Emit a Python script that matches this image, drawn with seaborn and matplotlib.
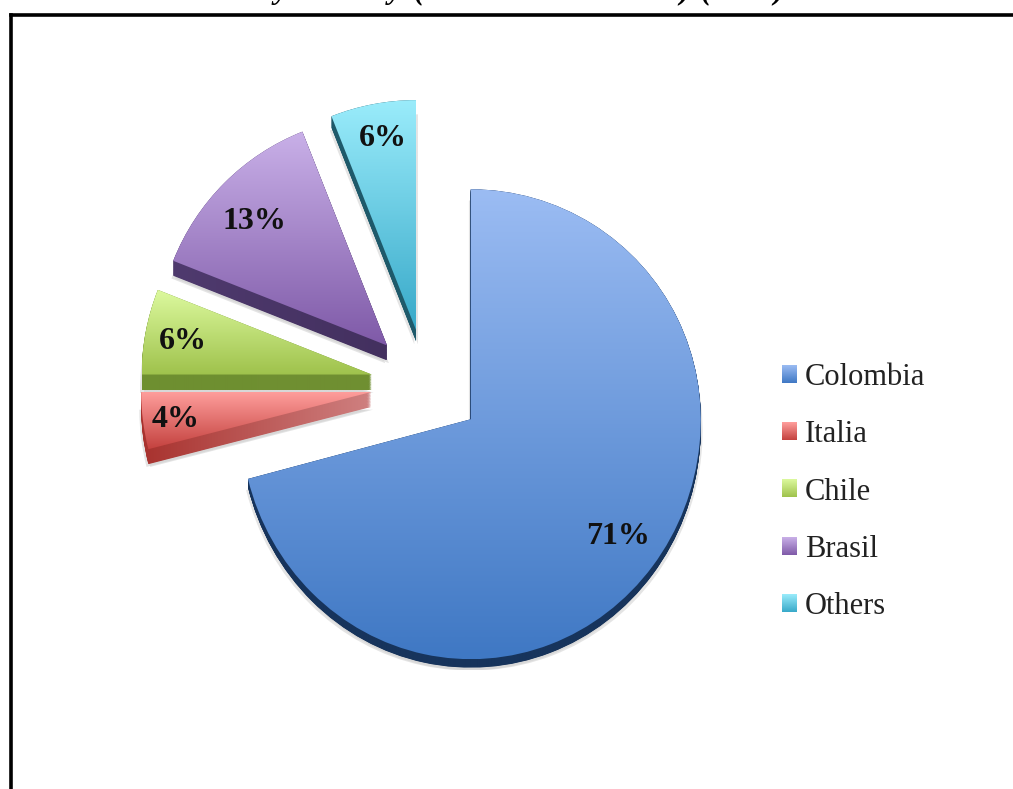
import numpy as np
import matplotlib
matplotlib.use("Agg")
import matplotlib.pyplot as plt
from matplotlib.image import BboxImage
from matplotlib.legend_handler import HandlerBase
from matplotlib.patches import Patch
from matplotlib.path import Path
from matplotlib.transforms import Bbox, TransformedBbox
import seaborn as sns

countries = ["Colombia", "Italia", "Chile", "Brasil", "Others"]
shares = [71, 4, 6, 13, 6]

face_top = ["#9bbcf3", "#ff9f9d", "#dcf99e", "#c9b0e8", "#9aecfb"]
face_bottom = ["#3f78c4", "#c4423f", "#9fc24c", "#7f5aa8", "#38a9c9"]
wall_left = ["#17345c", "#a8322e", "#6e8f30", "#4f3a6e", "#1f5a6b"]
wall_right = ["#17345c", "#cf8080", "#708f32", "#43305f", "#1f5a6b"]

sns.set_theme(style="white")
plt.rcParams["font.family"] = ["Liberation Serif", "DejaVu Serif"]

W, H = 1013, 789
fig = plt.figure(figsize=(W / 100, H / 100), dpi=100, facecolor="white")
L, T = 11, 15
ax = fig.add_axes([L / W, 0, (W - L) / W, (H - T) / H])

R = 230.0
cx, cy = 426.6, 385.0
xlim = ((L - cx) / R, (W - cx) / R)
ylim = ((cy - H) / R, (cy - T) / R)
explode = [0.243] * len(shares)
depth = [0.037, 0.065, 0.068, 0.065, 0.05]
lower_stretch = [1.043, 1.0, 1.0, 1.0, 1.0]
label_radius = [0.81, 0.855, 0.835, 0.80, 0.86]
label_turn = [0.0, 0.0, 0.0, 1.3, -1.2]
label_drop = 3 / R


def gradient(colors, horizontal=False):
    arr = np.array(sns.blend_palette(colors, 128))
    return arr[None, :, :3] if horizontal else arr[:, None, :3]


def paint(wedge, colors, horizontal=False, stretch=1.0, shift=(0.0, 0.0), zorder=3, alpha=None):
    apex_y = wedge.center[1]
    path = wedge.get_path().transformed(wedge.get_patch_transform())
    v = path.vertices.copy()
    below = v[:, 1] < apex_y
    v[below, 1] = apex_y + (v[below, 1] - apex_y) * stretch
    v += np.array(shift)
    warped = Path(v, path.codes)
    bb = warped.get_extents()
    im = ax.imshow(gradient(colors, horizontal), origin="upper", interpolation="bilinear",
                   extent=(bb.x0, bb.x1, bb.y0, bb.y1), zorder=zorder, alpha=alpha)
    im.set_clip_path(warped, ax.transData)
    wedge.set_visible(False)


faces, _, pcts = ax.pie(shares, explode=explode, startangle=90, counterclock=False,
                        radius=1, frame=True, colors=["none"] * 5,
                        autopct="%d%%", pctdistance=0.83,
                        textprops=dict(fontsize=23, fontweight="bold", color="#111111", zorder=10))

for i, w in enumerate(faces):
    d, k = depth[i], lower_stretch[i]
    for dx in (-0.008, 0.008):
        paint(w, ["#cfcfcf", "#cfcfcf"], stretch=k, shift=(dx, -d - 0.012), zorder=1, alpha=0.55)
    for frac in np.linspace(1, 0, 26):
        paint(w, [wall_left[i], wall_right[i]], horizontal=True, stretch=k,
              shift=(0, -frac * d), zorder=2)
    paint(w, [face_top[i], face_bottom[i]], stretch=k, zorder=3)
    mid = np.deg2rad((w.theta1 + w.theta2) / 2 + label_turn[i])
    pcts[i].set_position((w.center[0] + label_radius[i] * np.cos(mid),
                          w.center[1] + label_radius[i] * np.sin(mid) - label_drop))

ax.set_xlim(*xlim)
ax.set_ylim(*ylim)
ax.set_aspect("equal")
ax.set_xticks([])
ax.set_yticks([])
for s in ["right", "bottom"]:
    ax.spines[s].set_visible(False)
for s in ["left", "top"]:
    ax.spines[s].set_visible(True)
    ax.spines[s].set_color("black")
    ax.spines[s].set_linewidth(2.6)


class GradientHandler(HandlerBase):
    def create_artists(self, legend, orig, xd, yd, width, height, fontsize, trans):
        box = Bbox.from_bounds(-xd, -yd, width, height)
        im = BboxImage(TransformedBbox(box, trans), interpolation="bilinear")
        im.set_data(gradient(orig.grad))
        return [im]


handles = []
for a, b in zip(face_top, face_bottom):
    p = Patch(color=b)
    p.grad = [a, b]
    handles.append(p)

ax.legend(handles, countries, loc="center left", bbox_to_anchor=(782 / W, 1 - 492 / H),
          bbox_transform=fig.transFigure, frameon=False, fontsize=22,
          handler_map={Patch: GradientHandler()}, handlelength=0.49, handleheight=0.49,
          handletextpad=0.26, labelspacing=0.925, borderaxespad=0, borderpad=0,
          labelcolor="#222222")

title_bits = [("by Country", 402), ("(", 424), (")", 690), ("(", 711), (")", 784)]
for txt, xr in title_bits:
    fig.text(xr / W, 1 + 2 / H, txt, ha="right", va="baseline", fontsize=22.5,
             fontweight="bold", fontstyle="italic", color="black")

fig.savefig("out.png", dpi=100)
